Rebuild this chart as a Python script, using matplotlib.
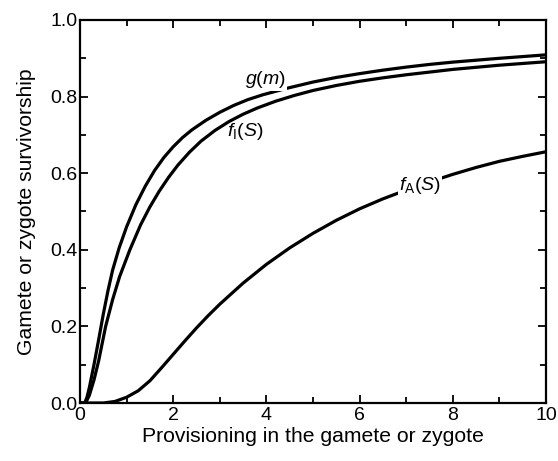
import matplotlib
matplotlib.use("Agg")
import matplotlib.pyplot as plt
from matplotlib.ticker import MultipleLocator, FormatStrFormatter

plt.rcParams['font.family'] = ['Liberation Sans', 'DejaVu Sans']
plt.rcParams['mathtext.fontset'] = 'custom'
plt.rcParams['mathtext.rm'] = 'Liberation Sans'
plt.rcParams['mathtext.it'] = 'Liberation Sans:italic'

# g(m)
g_x = [0, 0.1, 0.15, 0.2, 0.25, 0.3, 0.4, 0.5, 0.6, 0.7, 0.84, 1.0, 1.2, 1.4, 1.6, 1.8, 2.0, 2.2, 2.4,
       2.7, 3.0, 3.3, 3.6, 3.93, 4.45, 5.0, 5.5, 6.0, 6.5, 7.0, 7.5, 8.0, 9.0, 10.0]
g_y = [0, 0, 0.015, 0.04, 0.07, 0.10, 0.165, 0.232, 0.293, 0.347, 0.405, 0.46, 0.518, 0.566, 0.607, 0.641,
       0.669, 0.693, 0.713, 0.738, 0.759, 0.777, 0.792, 0.805, 0.822, 0.838, 0.850, 0.860, 0.869, 0.877,
       0.884, 0.890, 0.900, 0.909]

# f_I(S)
fi_x = [0, 0.12, 0.2, 0.3, 0.4, 0.55, 0.7, 0.85, 1.07, 1.3, 1.5, 1.7, 1.9, 2.1, 2.35, 2.6, 2.9, 3.2, 3.5,
        3.8, 4.2, 4.6, 5.0, 5.5, 6.0, 6.5, 7.0, 7.5, 8.0, 9.0, 10.0]
fi_y = [0, 0, 0.02, 0.06, 0.11, 0.20, 0.27, 0.33, 0.40, 0.465, 0.512, 0.553, 0.589, 0.621, 0.655, 0.684,
        0.712, 0.735, 0.754, 0.770, 0.788, 0.803, 0.816, 0.829, 0.840, 0.849, 0.857, 0.864, 0.871, 0.882, 0.891]

# f_A(S)
fa_x = [0, 0.5, 0.75, 1.0, 1.25, 1.5, 1.75, 2.0, 2.25, 2.5, 2.75, 3.0, 3.5, 4.0, 4.5, 5.0, 5.5, 6.0, 6.5,
        7.0, 7.5, 8.0, 8.5, 9.0, 9.5, 10.0]
fa_y = [0, 0, 0.004, 0.015, 0.032, 0.058, 0.092, 0.127, 0.162, 0.196, 0.228, 0.258, 0.313, 0.362, 0.405,
        0.443, 0.477, 0.507, 0.533, 0.556, 0.577, 0.597, 0.615, 0.631, 0.644, 0.656]

fig = plt.figure(figsize=(5.58, 4.61), dpi=100)
ax = fig.add_axes([80/558, 1-403/461, (546-80)/558, (403-20)/461])

lw = 2.3
for xs, ys in [(g_x, g_y), (fi_x, fi_y), (fa_x, fa_y)]:
    ax.plot(xs, ys, color='black', lw=lw, solid_capstyle='butt', solid_joinstyle='round')

bb = dict(facecolor='white', edgecolor='none', pad=1.0)
ax.text(3.97, 0.845, r'$g(m)$', fontsize=14, ha='center', va='center', bbox=bb, zorder=5)
ax.text(3.55, 0.710, r'$f_{\mathrm{I}}(S)$', fontsize=14, ha='center', va='center', zorder=5)
ax.text(7.30, 0.567, r'$f_{\mathrm{A}}(S)$', fontsize=14, ha='center', va='center', bbox=bb, zorder=5)

ax.set_xlim(0, 10)
ax.set_ylim(0, 1.0)
ax.xaxis.set_major_locator(MultipleLocator(2))
ax.xaxis.set_minor_locator(MultipleLocator(1))
ax.yaxis.set_major_locator(MultipleLocator(0.2))
ax.yaxis.set_minor_locator(MultipleLocator(0.1))
ax.yaxis.set_major_formatter(FormatStrFormatter('%.1f'))
ax.tick_params(which='both', direction='in', top=True, right=True, labelsize=14, width=1.3)
ax.tick_params(axis='x', pad=3)
ax.tick_params(axis='y', pad=2)
ax.tick_params(which='major', length=6)
ax.tick_params(which='minor', length=4)
for s in ax.spines.values():
    s.set_linewidth(1.6)

ax.set_xlabel('Provisioning in the gamete or zygote', fontsize=15.2, labelpad=2)
ax.set_ylabel('Gamete or zygote survivorship', fontsize=15.2, labelpad=10)

fig.savefig('out.png', dpi=100)
